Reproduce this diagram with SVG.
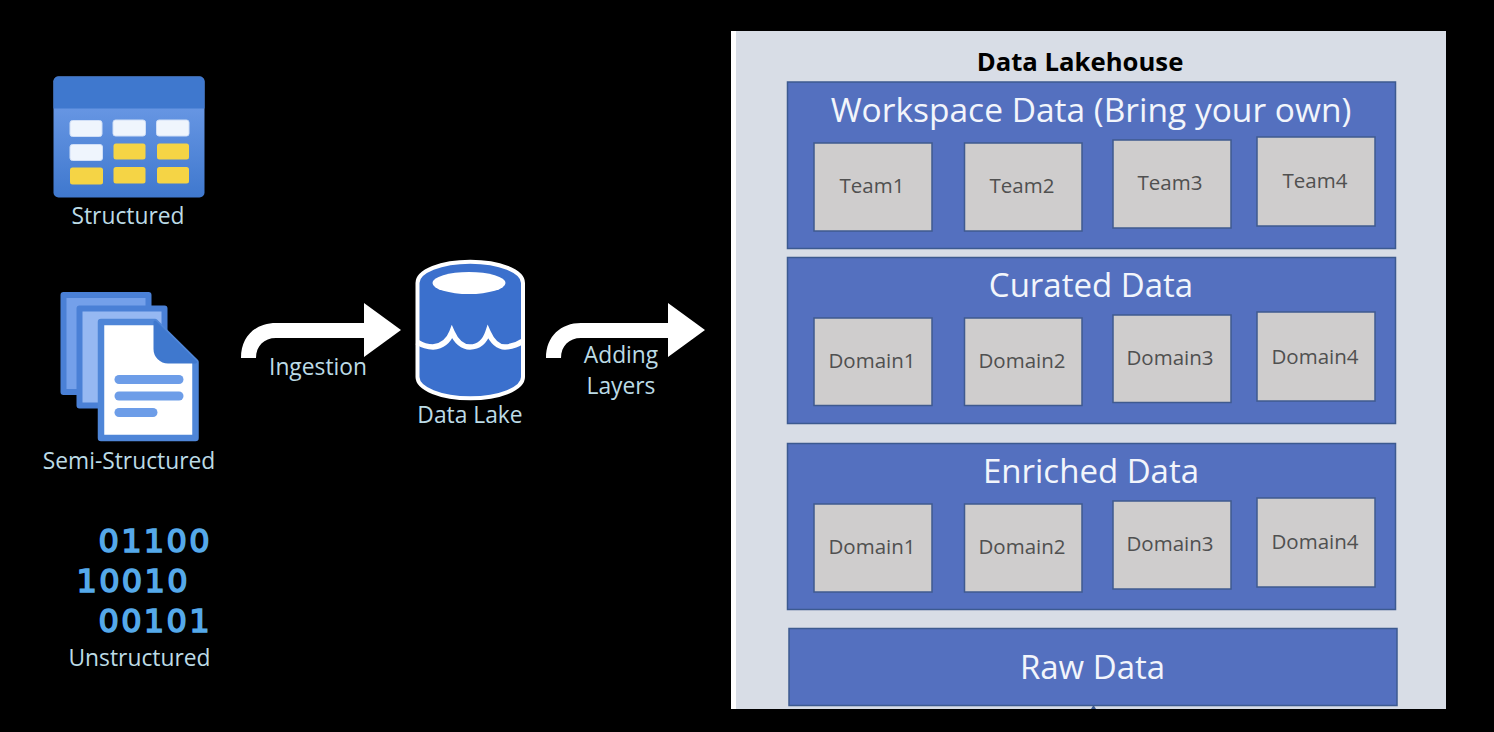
<svg xmlns="http://www.w3.org/2000/svg" width="1494" height="732" viewBox="0 0 1494 732">
<style>
.lbl{font-family:"Open Sans","Noto Sans","Liberation Sans",sans-serif;fill:#bcdbe6;font-size:22.8px;text-anchor:middle}
.bin{font-family:"DejaVu Sans","Liberation Sans",sans-serif;fill:#55a9ea;stroke:#55a9ea;stroke-width:1.6;font-size:32px;letter-spacing:2.3px}
.layer{fill:#5470bf;stroke:#3c5a90;stroke-width:1.5}
.item{fill:#cfcdcd;stroke:#3f5a8f;stroke-width:1.5}
.head{font-family:"Open Sans","Noto Sans","Liberation Sans",sans-serif;fill:#f2f5fb;font-size:33px;text-anchor:middle}
.txt{font-family:"Open Sans","Noto Sans","Liberation Sans",sans-serif;fill:#505050;font-size:20.5px;text-anchor:middle}
</style>
<defs>
<linearGradient id="tb" x1="0" y1="0" x2="0" y2="1"><stop offset="0" stop-color="#74a0ea"/><stop offset="1" stop-color="#3f78ce"/></linearGradient>
</defs>
<rect width="1494" height="732" fill="#000"/>

<g id="structured">
<rect x="53.500" y="76.500" width="151" height="121" rx="5" fill="url(#tb)"/>
<path d="M53.500 108.500V81.500a5 5 0 0 1 5-5h141a5 5 0 0 1 5 5v27z" fill="#3f78ce"/>
<g fill="#eff5fd" stroke="#cfdef7" stroke-width="1">
<rect x="70" y="120.500" width="32" height="16" rx="2.500"/>
<rect x="113" y="120" width="32.500" height="16" rx="2.500"/>
<rect x="156.500" y="120" width="32.500" height="16" rx="2.500"/>
<rect x="70" y="144.500" width="32.500" height="16" rx="2.500"/>
</g>
<g fill="#f5d445">
<rect x="113.500" y="143.500" width="32" height="16" rx="2.500"/>
<rect x="157" y="143.500" width="32" height="16" rx="2.500"/>
<rect x="70" y="167.500" width="33" height="17" rx="2.500"/>
<rect x="113.500" y="167" width="32" height="16.500" rx="2.500"/>
<rect x="157" y="167" width="32" height="16.500" rx="2.500"/>
</g>
<text class="lbl" x="128" y="223.500">Structured</text>
</g>

<g id="semi-structured">
<rect x="63.500" y="295" width="85" height="97" fill="#74a0ea" stroke="#4a80d6" stroke-width="6" stroke-linejoin="round"/>
<rect x="79.500" y="308.500" width="85" height="97" fill="#96b8f2" stroke="#4a80d6" stroke-width="6" stroke-linejoin="round"/>
<path d="M101 322H155L195.500 362V438H101z" fill="#fff" stroke="#4f86d8" stroke-width="6.500" stroke-linejoin="round"/>
<path d="M155 322L195.500 362H168a13 13 0 0 1-13-13z" fill="#3f78ce" stroke="#3f78ce" stroke-width="3" stroke-linejoin="round"/>
<g stroke="#6d9de8" stroke-width="9" stroke-linecap="round">
<path d="M119 379.500H179"/>
<path d="M119 396H179"/>
<path d="M119 412.500H153"/>
</g>
<text class="lbl" x="129" y="468.500">Semi-Structured</text>
</g>

<g id="unstructured">
<text class="bin" x="98.500" y="552">01100</text>
<text class="bin" x="76.500" y="592">10010</text>
<text class="bin" x="98.500" y="632">00101</text>
<text class="lbl" x="139.500" y="665.500">Unstructured</text>
</g>

<g id="data-lake">
<path d="M417.500 283A52 21 0 0 1 523 283V377A52 21 0 0 1 417.500 377z" fill="#3b70cd" stroke="#fff" stroke-width="4"/>
<ellipse cx="469" cy="283" rx="36.500" ry="11" fill="#fff"/>
<path d="M417 342Q425 347 433 347C444 346 449 340 452 332C456 341 461 347 470 347C480 347 485 341 488 332C492 341 497 347 505 347Q514 347 523 341" fill="none" stroke="#fff" stroke-width="5.500"/>
<text class="lbl" x="470" y="423">Data Lake</text>
</g>

<g id="connectors" fill="#fff">
<path d="M241 358C241 336 256 323 276 323H364V303L401 330L364 357V338H276C264 338 256 346 256 358z"/>
<path d="M546 358C546 336 561 323 581 323H668V303L705 330L668 357V338H581C569 338 561 346 561 358z"/>
</g>
<g id="connector-labels">
<text class="lbl" x="318" y="375">Ingestion</text>
<text class="lbl" x="621" y="363">Adding</text>
<text class="lbl" x="621" y="393.500">Layers</text>
</g>

<g id="lakehouse">
<rect x="731" y="31" width="715" height="678" fill="#d8dde6"/>
<rect x="731" y="31" width="5" height="678" fill="#fff"/>
<text x="1080" y="71" text-anchor="middle" font-family="'Open Sans','Noto Sans','Liberation Sans',sans-serif" font-weight="700" font-size="25.700" fill="#000">Data Lakehouse</text>
</g>

<g id="workspace">
<rect class="layer" x="787.500" y="82" width="608" height="166.500"/>
<text class="head" x="1091" y="122" style="font-size:33.500px">Workspace Data (Bring your own)</text>
<rect class="item" x="814" y="143" width="118" height="88"/><text class="txt" x="872" y="192.500">Team1</text>
<rect class="item" x="964.500" y="143" width="117.500" height="88"/><text class="txt" x="1022" y="192.500">Team2</text>
<rect class="item" x="1113" y="140" width="118" height="88"/><text class="txt" x="1170" y="189.500">Team3</text>
<rect class="item" x="1257" y="137" width="118" height="89"/><text class="txt" x="1315" y="188">Team4</text>
</g>

<g id="curated">
<rect class="layer" x="787.500" y="257.500" width="608" height="166"/>
<text class="head" x="1091" y="297">Curated Data</text>
<rect class="item" x="814" y="318" width="118" height="87.500"/><text class="txt" x="872" y="368">Domain1</text>
<rect class="item" x="964.500" y="318" width="117.500" height="87.500"/><text class="txt" x="1022" y="368">Domain2</text>
<rect class="item" x="1113" y="315" width="118" height="87.500"/><text class="txt" x="1170" y="365">Domain3</text>
<rect class="item" x="1257" y="312" width="118" height="89"/><text class="txt" x="1315" y="363.500">Domain4</text>
</g>

<g id="enriched">
<rect class="layer" x="787.500" y="443.500" width="608" height="166"/>
<text class="head" x="1091" y="483">Enriched Data</text>
<rect class="item" x="814" y="504" width="118" height="88"/><text class="txt" x="872" y="553.500">Domain1</text>
<rect class="item" x="964.500" y="504" width="117.500" height="88"/><text class="txt" x="1022" y="553.500">Domain2</text>
<rect class="item" x="1113" y="501" width="118" height="88"/><text class="txt" x="1170" y="550.500">Domain3</text>
<rect class="item" x="1257" y="498" width="118" height="89"/><text class="txt" x="1315" y="549">Domain4</text>
</g>

<g id="raw">
<rect class="layer" x="789" y="628.500" width="608" height="77"/>
<text class="head" x="1092.500" y="679">Raw Data</text>
<path d="M1091 709L1093.500 705L1096 709z" fill="#3c5a90"/>
</g>
</svg>
